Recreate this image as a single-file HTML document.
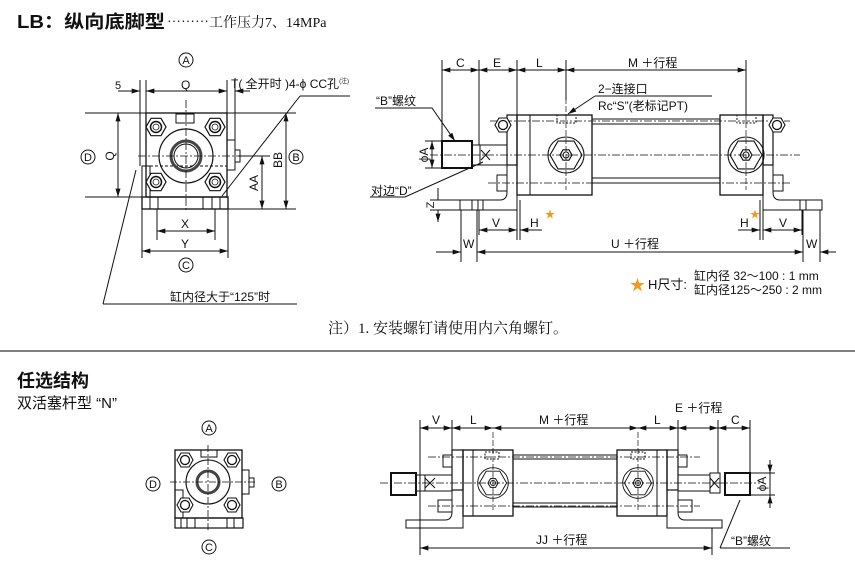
<!DOCTYPE html>
<html><head><meta charset="utf-8">
<style>
html,body{margin:0;padding:0;background:#fff;}
svg{display:block;}
text{font-family:"Liberation Sans","Noto Sans CJK SC",sans-serif;fill:#111;}
.s{font-family:"Liberation Serif","Noto Serif CJK SC",serif;}
</style></head><body>
<svg width="855" height="567" viewBox="0 0 855 567" xmlns="http://www.w3.org/2000/svg">
<defs>
<marker id="a" viewBox="0 0 10 6" refX="10" refY="3" markerWidth="9" markerHeight="5" orient="auto-start-reverse" markerUnits="userSpaceOnUse"><path d="M0,0 L10,3 L0,6z" fill="#111"/></marker>
<g id="hex"><polygon points="10,0 5,8.7 -5,8.7 -10,0 -5,-8.7 5,-8.7" fill="#fff" stroke="#111" stroke-width="1.2"/><circle r="5.5" fill="none" stroke="#111" stroke-width="1.5"/><circle r="3" fill="none" stroke="#111" stroke-width="0.8"/></g>
<g id="hexs"><polygon points="8,0 4,7 -4,7 -8,0 -4,-7 4,-7" fill="#fff" stroke="#111" stroke-width="1.1"/><circle r="4.5" fill="none" stroke="#111" stroke-width="1.3"/></g>
<g id="port"><circle r="18" fill="none" stroke="#111" stroke-width="1.1"/><polygon points="16,0 8,13.9 -8,13.9 -16,0 -8,-13.9 8,-13.9" fill="none" stroke="#111" stroke-width="1.1"/><polygon points="6,0 3,5.2 -3,5.2 -6,0 -3,-5.2 3,-5.2" fill="none" stroke="#111" stroke-width="1.2"/><circle r="3" fill="none" stroke="#111" stroke-width="1"/></g>
</defs>

<!-- TITLE -->
<text x="17" y="28" font-size="18" font-weight="bold" textLength="148" lengthAdjust="spacingAndGlyphs">LB：纵向底脚型</text>
<text x="167" y="27" font-size="14" class="s">⋯⋯⋯工作压力7、14MPa</text>

<g fill="none" stroke="#111" stroke-width="1">
<rect x="146" y="113" width="81" height="84" stroke-width="1.3"/>
<rect x="142" y="166" width="8" height="31"/>
<path d="M150,166 L227,166" stroke-dasharray="3,2"/>
<rect x="142" y="197" width="86" height="12" stroke-width="1.3"/>
<path d="M150,197 v12 M158,197 v12 M203,197 v12 M212,197 v12 M220,197 v12"/>
<rect x="176" y="114" width="18" height="9"/>
<rect x="227" y="140" width="8" height="30"/>
<rect x="235" y="150" width="5" height="12"/>
<circle cx="186" cy="156" r="27" stroke-width="1.2"/>
<circle cx="186" cy="156" r="15" stroke-width="3" stroke="#444"/>
<circle cx="186" cy="156" r="12" stroke-width="1"/>
<path d="M186,100 V212 M138,156 H248" stroke-dasharray="8,2,2,2" stroke-width="0.8"/>
<path d="M85,113 H146 M227,113 H296 M85,197 H146 M228,209 H296 M238,156 H270"/>
<path d="M146,80 V113 M227,80 V113 M140,80 V166 M142,209 V258 M228,209 V258 M157,209 V240 M215,209 V240 M235,78 V150"/>
<path d="M118,113 V197" marker-start="url(#a)" marker-end="url(#a)"/>
<path d="M146,91 H227" marker-start="url(#a)" marker-end="url(#a)"/>
<path d="M118,91 H140" marker-end="url(#a)"/>
<path d="M250,91 H235" marker-end="url(#a)"/>
<path d="M262,156 V209" marker-start="url(#a)" marker-end="url(#a)"/>
<path d="M286,113 V209" marker-start="url(#a)" marker-end="url(#a)"/>
<path d="M157,231 H215" marker-start="url(#a)" marker-end="url(#a)"/>
<path d="M142,251 H228" marker-start="url(#a)" marker-end="url(#a)"/>
<path d="M300,96 H350 M300,96 L222,196"/>
<path d="M103,304 L136,170 M103,304 H297"/>
<circle cx="186" cy="60" r="7"/><circle cx="88" cy="157" r="7"/><circle cx="296" cy="157" r="7"/><circle cx="186" cy="265" r="7"/>
</g>
<use href="#hex" x="156" y="127"/><use href="#hex" x="215" y="127"/><use href="#hex" x="156" y="182"/><use href="#hex" x="215" y="182"/>
<g font-size="11" text-anchor="middle">
<text x="186" y="64">A</text><text x="88" y="161">D</text><text x="296" y="161">B</text><text x="186" y="269">C</text>
</g>
<text x="115" y="89" font-size="11">5</text>
<text x="181" y="89" font-size="12">Q</text>
<text x="231" y="88" font-size="12">T( 全开时 )4-ϕ CC孔<tspan font-size="6" dy="-5">(注)</tspan></text>
<text x="181" y="228" font-size="12">X</text>
<text x="181" y="248" font-size="12">Y</text>
<text transform="translate(114,156) rotate(-90)" font-size="12" text-anchor="middle">Q</text>
<text transform="translate(258,183) rotate(-90)" font-size="12" text-anchor="middle">AA</text>
<text transform="translate(282,160) rotate(-90)" font-size="12" text-anchor="middle">BB</text>
<text x="170" y="301" font-size="12">缸内径大于“125”时</text>

<g fill="none" stroke="#111" stroke-width="1">
<rect x="517" y="115" width="75" height="80" stroke-width="1.3"/>
<path d="M530,115 V195"/>
<rect x="507" y="115" width="10" height="50" stroke-width="1.2"/>
<path d="M507,165 V192 Q507,200 500,200 H460 V210 H517 V195"/>
<rect x="500" y="119" width="7" height="12"/><rect x="497" y="175" width="10" height="16"/>
<rect x="720" y="115" width="43" height="80" stroke-width="1.3"/>
<rect x="763" y="115" width="10" height="50" stroke-width="1.2"/>
<path d="M773,165 V192 Q773,200 780,200 H822 V210 H763 V195"/>
<rect x="773" y="119" width="7" height="12"/><rect x="773" y="175" width="10" height="16"/>
<path d="M592,119 H720 M592,124 H720 M592,178 H720 M592,183 H720"/>
<rect x="557" y="115" width="19" height="8" stroke-dasharray="2,1.5"/>
<rect x="737" y="115" width="19" height="8" stroke-dasharray="2,1.5"/>
<path d="M490,121 H790 M488,183 H790" stroke-dasharray="8,2,2,2" stroke-width="0.7"/>
<rect x="442" y="141" width="30" height="27" stroke-width="2"/>
<path d="M472,145 H480 V165 H472 M480,145 H507 M480,165 H507"/>
<path d="M481,150 L490,160 M490,150 L481,160"/>
<path d="M430,155 H800" stroke-dasharray="8,2,2,2" stroke-width="0.7"/>
<path d="M566,90 V190 M746,90 V190" stroke-dasharray="6,2" stroke-width="0.7"/>
<path d="M472,200 V210 M478,200 V210 M483,200 V210 M800,200 V210 M806,200 V210"/>
<path d="M442,60 V141 M479,60 V145 M517,60 V115 M746,60 V115 M566,60 V100"/>
<path d="M442,70 H479" marker-start="url(#a)" marker-end="url(#a)"/>
<path d="M479,70 H517" marker-start="url(#a)" marker-end="url(#a)"/>
<path d="M517,70 H566" marker-start="url(#a)" marker-end="url(#a)"/>
<path d="M566,70 H746" marker-start="url(#a)" marker-end="url(#a)"/>
<path d="M595,96 H712 M595,96 L568,114" marker-end="url(#a)"/>
<path d="M375,108 H432 L455,141" marker-end="url(#a)"/>
<path d="M425,141 H442 M425,168 H442"/>
<path d="M432,141 V168" marker-start="url(#a)" marker-end="url(#a)"/>
<path d="M370,197 H405 L483,162"/>
<path d="M438,188 V200 M438,210 V222" marker-end="url(#a)"/>
<path d="M430,200 H460 M430,210 H460"/>
<path d="M461,210 V262 M477,210 V262 M517,200 V240 M520,200 V240 M760,200 V240 M763,200 V240 M803,210 V262 M820,210 V262"/>
<path d="M479,235 V210"/>
<path d="M479,230 H517" marker-start="url(#a)" marker-end="url(#a)"/>
<path d="M542,230 H520" marker-end="url(#a)"/>
<path d="M738,230 H760" marker-end="url(#a)"/>
<path d="M763,230 H802" marker-start="url(#a)" marker-end="url(#a)"/>
<path d="M802,210 V235"/>
<path d="M436,252 H461" marker-end="url(#a)"/>
<path d="M477,252 H803" marker-start="url(#a)" marker-end="url(#a)"/>
<path d="M836,252 H820" marker-end="url(#a)"/>
</g>
<use href="#port" x="566" y="155"/><use href="#port" x="746" y="155"/>
<use href="#hexs" x="503" y="125"/><use href="#hexs" x="777" y="125"/>
<text x="456" y="67" font-size="12">C</text>
<text x="493" y="67" font-size="12">E</text>
<text x="536" y="67" font-size="12">L</text>
<text x="628" y="67" font-size="12">M ＋行程</text>
<text x="598" y="93" font-size="12">2−连接口</text>
<text x="598" y="110" font-size="12">Rc“S”(老标记PT)</text>
<text x="376" y="105" font-size="12">“B”螺纹</text>
<text transform="translate(428,155) rotate(-90)" font-size="12" text-anchor="middle">ϕA</text>
<text x="371" y="195" font-size="12">对边“D”</text>
<text transform="translate(434,205) rotate(-90)" font-size="11" text-anchor="middle">Z</text>
<text x="492" y="227" font-size="12">V</text>
<text x="530" y="227" font-size="12">H</text>
<text x="545" y="218" font-size="10" style="fill:#f39a1e">★</text>
<text x="740" y="227" font-size="12">H</text>
<text x="750" y="218" font-size="10" style="fill:#f39a1e">★</text>
<text x="779" y="227" font-size="12">V</text>
<text x="463" y="248" font-size="12">W</text>
<text x="611" y="248" font-size="12">U ＋行程</text>
<text x="806" y="248" font-size="12">W</text>
<text x="630" y="290" font-size="15" style="fill:#f39a1e">★</text>
<text x="648" y="289" font-size="13">H尺寸:</text>
<text x="694" y="280" font-size="12">缸内径 32～100 : 1 mm</text>
<text x="694" y="294" font-size="12">缸内径125～250 : 2 mm</text>

<text x="328" y="333" font-size="15" class="s">注）1. 安装螺钉请使用内六角螺钉。</text>
<line x1="0" y1="351" x2="855" y2="351" stroke="#555" stroke-width="1.5"/>

<text x="17" y="387" font-size="18" font-weight="bold">任选结构</text>
<text x="17" y="408" font-size="15">双活塞杆型 “N”</text>

<g fill="none" stroke="#111" stroke-width="1">
<rect x="175" y="450" width="67" height="68" stroke-width="1.3"/>
<rect x="175" y="490" width="8" height="28"/>
<rect x="175" y="518" width="68" height="10" stroke-width="1.2"/>
<path d="M181,518 v10 M187,518 v10 M195,518 v10 M227,518 v10 M234,518 v10"/>
<rect x="201" y="450" width="16" height="7"/>
<rect x="242" y="470" width="7" height="24"/><rect x="249" y="478" width="5" height="9"/>
<circle cx="208" cy="482" r="22" stroke-width="1.1"/>
<circle cx="208" cy="482" r="11" stroke-width="3" stroke="#444"/>
<path d="M208,445 V532 M170,482 H255" stroke-dasharray="7,2,2,2" stroke-width="0.8"/>
<circle cx="209" cy="428" r="7"/><circle cx="153" cy="484" r="7"/><circle cx="279" cy="484" r="7"/><circle cx="209" cy="547" r="7"/>
</g>
<use href="#hexs" x="185" y="460"/><use href="#hexs" x="232" y="460"/><use href="#hexs" x="185" y="505"/><use href="#hexs" x="232" y="505"/>
<g font-size="11" text-anchor="middle">
<text x="209" y="432">A</text><text x="153" y="488">D</text><text x="279" y="488">B</text><text x="209" y="551">C</text>
</g>

<g fill="none" stroke="#111" stroke-width="1">
<rect x="463" y="450" width="50" height="66" stroke-width="1.3"/>
<path d="M473,450 V516"/>
<rect x="452" y="450" width="11" height="40" stroke-width="1.2"/>
<path d="M452,490 V512 Q452,520 445,520 H406 V528 H463 V516"/>
<rect x="443" y="455" width="9" height="12"/><rect x="438" y="500" width="14" height="12"/>
<rect x="617" y="450" width="50" height="66" stroke-width="1.3"/>
<path d="M657,450 V516"/>
<rect x="667" y="450" width="11" height="40" stroke-width="1.2"/>
<path d="M678,490 V512 Q678,520 685,520 H722 V528 H667 V516"/>
<rect x="678" y="455" width="9" height="12"/><rect x="678" y="500" width="14" height="12"/>
<path d="M513,455 H617 M513,459 H617 M513,503 H617 M513,507 H617"/>
<rect x="485" y="452" width="14" height="7" stroke-dasharray="2,1.5"/>
<rect x="631" y="452" width="14" height="7" stroke-dasharray="2,1.5"/>
<rect x="391" y="473" width="25" height="22" stroke-width="2"/>
<path d="M416,475 H425 V491 H416 M425,475 H452 M425,491 H452 M425,478 L435,488 M435,478 L425,488"/>
<path d="M678,475 H710 M678,491 H710 M710,473 H720 V493 H710 Z M710,478 L719,488 M719,478 L710,488"/>
<rect x="725" y="473" width="25" height="22" stroke-width="2"/>
<path d="M380,483 H760" stroke-dasharray="8,2,2,2" stroke-width="0.7"/>
<path d="M428,457 H700 M428,506 H700" stroke-dasharray="8,2,2,2" stroke-width="0.7"/>
<path d="M493,432 V510 M638,432 V510" stroke-dasharray="6,2" stroke-width="0.7"/>
<path d="M420,420 V555 M452,420 V450 M678,420 V450 M718,420 V473 M750,420 V473 M712,528 V555"/>
<path d="M420,428 H452" marker-start="url(#a)" marker-end="url(#a)"/>
<path d="M452,428 H493" marker-start="url(#a)" marker-end="url(#a)"/>
<path d="M493,428 H638" marker-start="url(#a)" marker-end="url(#a)"/>
<path d="M638,428 H678" marker-start="url(#a)" marker-end="url(#a)"/>
<path d="M678,428 H718" marker-start="url(#a)" marker-end="url(#a)"/>
<path d="M718,428 H750" marker-start="url(#a)" marker-end="url(#a)"/>
<path d="M420,548 H712" marker-start="url(#a)" marker-end="url(#a)"/>
<path d="M750,473 H775 M750,495 H775"/>
<path d="M770,460 V473" marker-end="url(#a)"/><path d="M770,508 V495" marker-end="url(#a)"/>
<path d="M770,473 V495"/>
<path d="M720,548 L740,500 M720,548 H790"/>
</g>
<use href="#port" x="493" y="483" transform="translate(493,483) scale(0.85) translate(-493,-483)"/>
<use href="#port" x="638" y="483" transform="translate(638,483) scale(0.85) translate(-638,-483)"/>
<text x="432" y="424" font-size="12">V</text>
<text x="470" y="424" font-size="12">L</text>
<text x="539" y="424" font-size="12">M ＋行程</text>
<text x="654" y="424" font-size="12">L</text>
<text x="675" y="412" font-size="12">E ＋行程</text>
<text x="731" y="424" font-size="12">C</text>
<text x="536" y="544" font-size="12">JJ ＋行程</text>
<text transform="translate(766,484) rotate(-90)" font-size="12" text-anchor="middle">ϕA</text>
<text x="731" y="545" font-size="12">“B”螺纹</text>
</svg>
</body></html>
